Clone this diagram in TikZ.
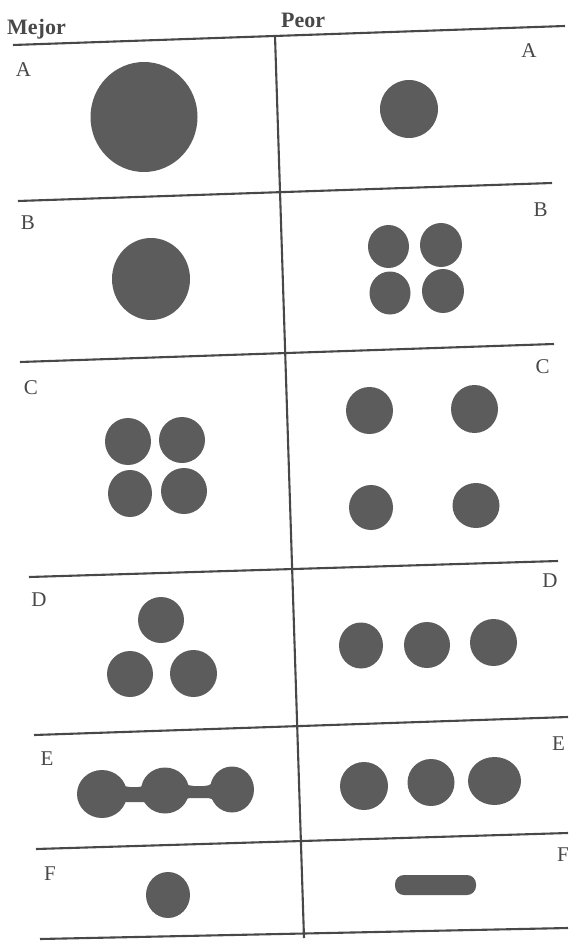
\documentclass[tikz,border=0pt]{standalone}
\usepackage{fontspec}
\setmainfont{Liberation Serif}
\definecolor{ink}{RGB}{92,92,92}
\definecolor{rulec}{RGB}{72,72,72}
\begin{document}
\begin{tikzpicture}[x=1pt,y=-1pt,
  blob/.style={fill=ink},
  ruleline/.style={draw=rulec, line width=2.1pt},
  lbl/.style={text=rulec, font=\fontsize{21}{21}\selectfont, inner sep=0pt, anchor=center},
  head/.style={text=rulec, font=\fontsize{22}{22}\selectfont\bfseries, inner sep=0pt, anchor=base west}]
\useasboundingbox[fill=white] (0,0) rectangle (568,941);

% rule end points
\coordinate (t0) at (13,45);   \coordinate (t1) at (565,26);
\coordinate (ab0) at (18,201); \coordinate (ab1) at (552,183);
\coordinate (bc0) at (20,362); \coordinate (bc1) at (554,344);
\coordinate (cd0) at (29,577); \coordinate (cd1) at (558,561);
\coordinate (de0) at (34,735); \coordinate (de1) at (568,717);
\coordinate (ef0) at (36,849); \coordinate (ef1) at (568,833);
\coordinate (bt0) at (40,939); \coordinate (bt1) at (568,928);
\coordinate (v0) at (275,36);  \coordinate (v1) at (304,938);

\draw[ruleline] (t0) -- (t1);
\draw[ruleline] (ab0) -- (ab1);
\draw[ruleline] (bc0) -- (bc1);
\draw[ruleline] (cd0) -- (cd1);
\draw[ruleline] (de0) -- (de1);
\draw[ruleline] (ef0) -- (ef1);
\draw[ruleline] (bt0) -- (bt1);
\draw[ruleline] (v0) -- (v1);

% headers
\node[head] (mejor) at (7,35) {Mejor};
\node[head] (peor) at (281,28) {Peor};

% row labels
\node[lbl] (la) at (23.5,70) {A};   \node[lbl] (ra) at (529,50.5) {A};
\node[lbl] (lb) at (28,222.5) {B};  \node[lbl] (rb) at (540.5,209.5) {B};
\node[lbl] (lc) at (31,387.5) {C};  \node[lbl] (rc) at (542.5,367) {C};
\node[lbl] (ld) at (39,599.5) {D};  \node[lbl] (rd) at (550,580.5) {D};
\node[lbl] (le) at (47,758.5) {E};  \node[lbl] (re) at (558.5,743.5) {E};
\node[lbl] (lf) at (50,873.5) {F};  \node[lbl] (rf) at (563,854.5) {F};

% row A
\fill[blob] (144,117) ellipse [x radius=53.5, y radius=55];
\fill[blob] (409,109) ellipse [x radius=29, y radius=29];

% row B
\fill[blob] (151,279) ellipse [x radius=39, y radius=41];
\fill[blob] (388.5,246.5) ellipse [x radius=20.5, y radius=21.5];
\fill[blob] (441,245) ellipse [x radius=21, y radius=22];
\fill[blob] (390,293) ellipse [x radius=20.5, y radius=21.5];
\fill[blob] (443,291) ellipse [x radius=21, y radius=22];

% row C
\fill[blob] (128,441.5) ellipse [x radius=23, y radius=23.5];
\fill[blob] (182,440) ellipse [x radius=23, y radius=23];
\fill[blob] (130,493.5) ellipse [x radius=22, y radius=23.5];
\fill[blob] (184,491) ellipse [x radius=23, y radius=23];
\fill[blob] (369.5,410.5) ellipse [x radius=23.5, y radius=23.5];
\fill[blob] (474.5,409) ellipse [x radius=23.5, y radius=24];
\fill[blob] (371,507.5) ellipse [x radius=22, y radius=22.5];
\fill[blob] (476,505.5) ellipse [x radius=23.5, y radius=22.5];

% row D
\fill[blob] (161,620) ellipse [x radius=23, y radius=23];
\fill[blob] (130,674) ellipse [x radius=23, y radius=23];
\fill[blob] (193.5,673.5) ellipse [x radius=23.5, y radius=23.5];
\fill[blob] (361,645.5) ellipse [x radius=22, y radius=23];
\fill[blob] (427,645) ellipse [x radius=23, y radius=23];
\fill[blob] (493.5,642.5) ellipse [x radius=23.5, y radius=23.5];

% row E: joined blobs
\fill[blob] (102,794) ellipse [x radius=25, y radius=24];
\fill[blob] (165,790.5) ellipse [x radius=24, y radius=23];
\fill[blob] (232,789.5) ellipse [x radius=22, y radius=23];
\fill[blob] (115,775) .. controls (122,786) .. (130,787) -- (138,787)
  .. controls (146,786) .. (150,775) -- (150,806)
  .. controls (146,802) .. (138,802) -- (130,802)
  .. controls (122,802) .. (117,810) -- cycle;
\fill[blob] (179,775) .. controls (186,785) .. (194,786) -- (204,786)
  .. controls (212,785) .. (218,773) -- (218,806)
  .. controls (212,798) .. (204,798) -- (194,798)
  .. controls (186,798) .. (179,806) -- cycle;
\fill[blob] (364,786) ellipse [x radius=24, y radius=24];
\fill[blob] (431,782.5) ellipse [x radius=23.5, y radius=23.5];
\fill[blob] (494.5,781) ellipse [x radius=26.5, y radius=24];

% row F
\fill[blob] (168,895) ellipse [x radius=22, y radius=23];
\fill[blob, rounded corners=9pt] (395,875) rectangle (476,895);
\end{tikzpicture}
\end{document}
